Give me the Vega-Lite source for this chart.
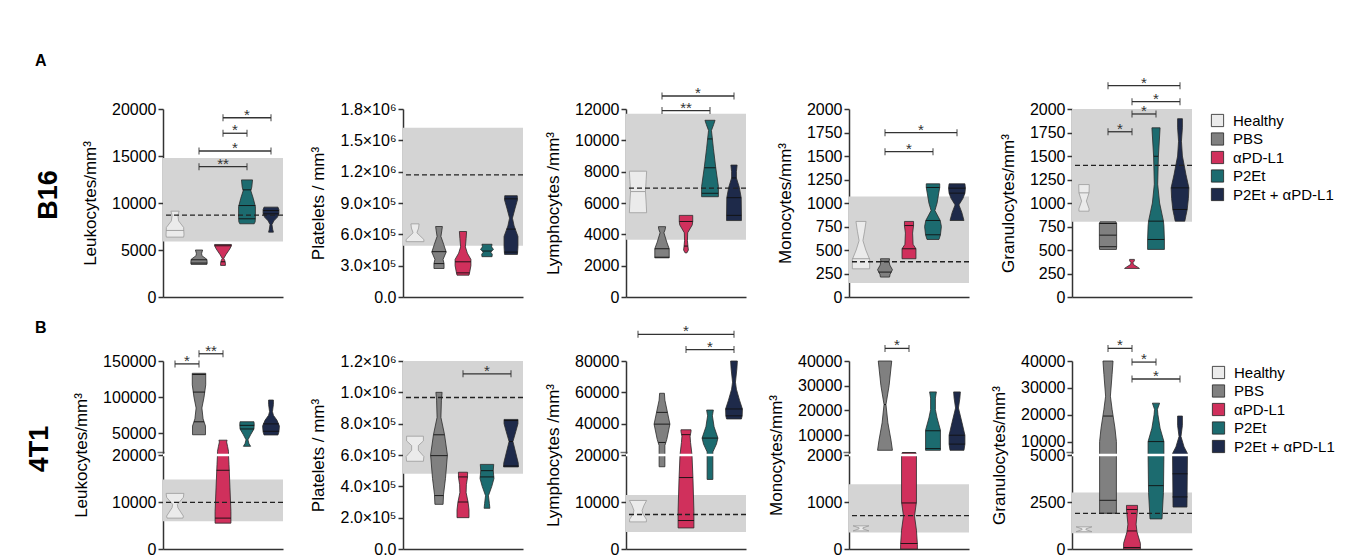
{
"$schema": "https://vega.github.io/schema/vega-lite/v6.json",
"padding": {"left": 25, "top": 52, "right": 5, "bottom": 5},
"spacing": 15,
"resolve": {"scale": {"fill": "independent"}, "legend": {"fill": "independent"}},
"datasets": {
"groups": [{"g":1,"name":"Healthy"},{"g":2,"name":"PBS"},{"g":3,"name":"αPD-L1"},{"g":4,"name":"P2Et"},{"g":5,"name":"P2Et + αPD-L1"}],
"bands": [
{"p":"A1","lo":5900,"hi":14800,"m":8700},
{"p":"A2","lo":490000,"hi":1620000,"m":1170000},
{"p":"A3","lo":3650,"hi":11700,"m":6950},
{"p":"A4","lo":150,"hi":1070,"m":375},
{"p":"A5","lo":800,"hi":2000,"m":1400},
{"p":"B1","lo":5900,"hi":14800,"m":9900},
{"p":"B2","lo":480000,"hi":1200000,"m":967000},
{"p":"B3","lo":3600,"hi":11500,"m":7340},
{"p":"B4","lo":350,"hi":1380,"m":710},
{"p":"B5","lo":840,"hi":3000,"m":1900}
],
"brk": [{"p":"B1","v":20000},{"p":"B3","v":20000},{"p":"B4","v":2000},{"p":"B5","v":5000}],
"br": [
{"p":"A1","g1":2,"g2":4,"v":13860,"s":"**"},{"p":"A1","g1":2,"g2":5,"v":15530,"s":"*"},{"p":"A1","g1":3,"g2":4,"v":17420,"s":"*"},{"p":"A1","g1":3,"g2":5,"v":19070,"s":"*"},
{"p":"A3","g1":2,"g2":4,"v":11900,"s":"**"},{"p":"A3","g1":2,"g2":5,"v":12830,"s":"*"},
{"p":"A4","g1":2,"g2":4,"v":1546,"s":"*"},{"p":"A4","g1":2,"g2":5,"v":1748,"s":"*"},
{"p":"A5","g1":2,"g2":3,"v":1758,"s":"*"},{"p":"A5","g1":3,"g2":4,"v":1947,"s":"*"},{"p":"A5","g1":3,"g2":5,"v":2078,"s":"*"},{"p":"A5","g1":2,"g2":5,"v":2248,"s":"*"},
{"p":"B1","g1":1,"g2":2,"v":146000,"s":"*"},{"p":"B1","g1":2,"g2":3,"v":160000,"s":"**"},
{"p":"B2","g1":3,"g2":5,"v":1118000,"s":"*"},
{"p":"B3","g1":3,"g2":5,"v":87300,"s":"*"},{"p":"B3","g1":1,"g2":5,"v":97000,"s":"*"},
{"p":"B4","g1":2,"g2":3,"v":45100,"s":"*"},
{"p":"B5","g1":2,"g2":3,"v":44700,"s":"*"},{"p":"B5","g1":3,"g2":4,"v":39600,"s":"*"},{"p":"B5","g1":3,"g2":5,"v":33300,"s":"*"}
],
"vio": [
{"p":"A1","g":1,"v":[6370,6600,7400,8100,8700,9130],"w":[0.36,0.375,0.36,0.15,0.12,0.17],"qv":[7080],"qw":[0.37]},
{"p":"A1","g":2,"v":[3470,3650,4000,4400,4650,5000],"w":[0.33,0.34,0.33,0.12,0.11,0.15],"qv":[3610,3960],"qw":[0.34,0.33]},
{"p":"A1","g":3,"v":[3360,3600,3900,4100,4500,5100,5450,5590],"w":[0.1,0.1,0.07,0.03,0.12,0.28,0.35,0.35],"qv":[3750,5450],"qw":[0.09,0.35]},
{"p":"A1","g":4,"v":[7790,8000,8500,9600,10500,11300,11700,12460],"w":[0.3,0.34,0.35,0.35,0.26,0.16,0.2,0.23],"qv":[8320,9730,11400],"qw":[0.35,0.35,0.17]},
{"p":"A1","g":5,"v":[6900,7200,7700,8100,8500,8900,9300,9560],"w":[0.1,0.07,0.04,0.12,0.27,0.33,0.33,0.29],"qv":[8850,9200],"qw":[0.33,0.33]},
{"p":"A2","g":1,"v":[530000,550000,615000,660000,700000],"w":[0.37,0.37,0.08,0.15,0.17],"qv":[],"qw":[]},
{"p":"A2","g":2,"v":[273000,320000,360000,430000,500000,580000,640000,675000],"w":[0.21,0.21,0.17,0.3,0.2,0.08,0.12,0.14],"qv":[320000,434000],"qw":[0.21,0.3]},
{"p":"A2","g":3,"v":[209000,240000,300000,360000,420000,480000,560000,627000],"w":[0.25,0.28,0.33,0.33,0.18,0.1,0.13,0.15],"qv":[231000,337000],"qw":[0.27,0.33]},
{"p":"A2","g":4,"v":[386000,410000,430000,455000,480000,505000],"w":[0.21,0.22,0.15,0.27,0.19,0.21],"qv":[440000],"qw":[0.2]},
{"p":"A2","g":5,"v":[408000,480000,580000,680000,755000,850000,930000,970000],"w":[0.27,0.29,0.29,0.13,0.06,0.17,0.27,0.26],"qv":[430000,650000,940000],"qw":[0.28,0.19,0.27]},
{"p":"A3","g":1,"v":[5380,6000,6730,7500,8030],"w":[0.36,0.34,0.31,0.34,0.36],"qv":[6730],"qw":[0.31]},
{"p":"A3","g":2,"v":[2500,3080,3500,4100,4300,4490],"w":[0.3,0.3,0.2,0.08,0.13,0.15],"qv":[2540,3080],"qw":[0.3,0.3]},
{"p":"A3","g":3,"v":[2820,3000,3250,3600,4100,4600,4820,5210],"w":[0.04,0.1,0.08,0.06,0.07,0.26,0.28,0.28],"qv":[3250,4820],"qw":[0.08,0.28]},
{"p":"A3","g":4,"v":[6400,6620,7050,8250,9500,10090,10630,11000,11280],"w":[0.35,0.35,0.35,0.24,0.14,0.1,0.06,0.15,0.21],"qv":[6620,8250,10090],"qw":[0.35,0.24,0.1]},
{"p":"A3","g":5,"v":[4880,5210,6340,7000,7600,8000,8420],"w":[0.31,0.31,0.3,0.22,0.1,0.1,0.13],"qv":[5210,6340,7600],"qw":[0.31,0.3,0.1]},
{"p":"A4","g":1,"v":[300,400,500,600,700,804],"w":[0.36,0.36,0.2,0.08,0.15,0.21],"qv":[407],"qw":[0.36]},
{"p":"A4","g":2,"v":[212,240,290,340,379,407],"w":[0.19,0.21,0.31,0.2,0.17,0.19],"qv":[265,379],"qw":[0.27,0.17]},
{"p":"A4","g":3,"v":[407,513,560,680,760,804],"w":[0.29,0.29,0.17,0.15,0.19,0.19],"qv":[513,760],"qw":[0.29,0.19]},
{"p":"A4","g":4,"v":[612,662,750,814,920,1000,1165,1204],"w":[0.25,0.31,0.35,0.3,0.08,0.17,0.28,0.28],"qv":[662,814,1165],"qw":[0.31,0.3,0.28]},
{"p":"A4","g":5,"v":[814,900,980,1050,1105,1158,1204],"w":[0.29,0.2,0.08,0.25,0.33,0.35,0.33],"qv":[1105,1158],"qw":[0.33,0.35]},
{"p":"A5","g":1,"v":[913,940,1020,1108,1196],"w":[0.21,0.21,0.1,0.21,0.22],"qv":[1108],"qw":[0.21]},
{"p":"A5","g":2,"v":[506,535,658,782,800],"w":[0.35,0.36,0.36,0.36,0.33],"qv":[535,658,782],"qw":[0.36,0.36,0.36]},
{"p":"A5","g":3,"v":[304,320,345,365,385,400],"w":[0.31,0.22,0.06,0.04,0.1,0.1],"qv":[],"qw":[]},
{"p":"A5","g":4,"v":[506,612,754,807,1000,1200,1497,1800],"w":[0.35,0.35,0.33,0.31,0.15,0.07,0.1,0.17],"qv":[612,807,1497],"qw":[0.35,0.31,0.1]},
{"p":"A5","g":5,"v":[807,870,931,1050,1161,1300,1500,1657,1800,1897],"w":[0.2,0.25,0.3,0.35,0.37,0.25,0.1,0.06,0.1,0.1],"qv":[931,1161],"qw":[0.3,0.37]},
{"p":"B1","g":1,"v":[6570,7000,8800,9500,11000,11830],"w":[0.33,0.35,0.12,0.1,0.35,0.37],"qv":[],"qw":[]},
{"p":"B1","g":2,"v":[48000,60000,70000,85000,100000,117000,133000],"w":[0.27,0.27,0.17,0.12,0.21,0.28,0.28],"qv":[65900,107000,131300],"qw":[0.21,0.25,0.28]},
{"p":"B1","g":3,"v":[5500,8000,13000,18000,20000,25000,32000,38000,40500],"w":[0.33,0.33,0.29,0.25,0.23,0.23,0.19,0.15,0.17],"qv":[6570,16750],"qw":[0.33,0.27]},
{"p":"B1","g":4,"v":[32000,36000,41000,48000,56000,63000,66000],"w":[0.15,0.08,0.04,0.15,0.29,0.3,0.29],"qv":[56000,61000],"qw":[0.29,0.3]},
{"p":"B1","g":5,"v":[47700,52000,60000,68000,75000,80000,90000,96000],"w":[0.29,0.33,0.35,0.25,0.1,0.06,0.1,0.1],"qv":[52800,63000],"qw":[0.33,0.33]},
{"p":"B2","g":1,"v":[560000,590000,630000,660000,690000,720000],"w":[0.35,0.37,0.14,0.14,0.35,0.35],"qv":[],"qw":[]},
{"p":"B2","g":2,"v":[285000,350000,450000,600000,730000,840000,950000,1000000],"w":[0.17,0.19,0.27,0.35,0.23,0.08,0.1,0.13],"qv":[341000,596000,729000],"qw":[0.18,0.35,0.23]},
{"p":"B2","g":3,"v":[200000,250000,300000,360000,410000,460000,490000],"w":[0.25,0.25,0.21,0.13,0.14,0.19,0.19],"qv":[300000,460000],"qw":[0.21,0.19]},
{"p":"B2","g":4,"v":[260000,290000,340000,400000,450000,500000,540000],"w":[0.12,0.1,0.06,0.2,0.29,0.26,0.28],"qv":[460000,500000],"qw":[0.29,0.26]},
{"p":"B2","g":5,"v":[524000,550000,686000,750000,800000,827000],"w":[0.31,0.3,0.08,0.2,0.29,0.29],"qv":[530000,686000,820000],"qw":[0.31,0.08,0.29]},
{"p":"B3","g":1,"v":[5770,6300,7500,8200,9300,10330],"w":[0.35,0.35,0.2,0.17,0.25,0.36],"qv":[],"qw":[]},
{"p":"B3","g":2,"v":[17500,20000,26000,30000,39700,47000,55000,59400],"w":[0.12,0.12,0.12,0.2,0.33,0.23,0.12,0.1],"qv":[28000,39700,47200],"qw":[0.15,0.33,0.23]},
{"p":"B3","g":3,"v":[4480,8000,15000,20000,28000,32000,35000,36100],"w":[0.33,0.33,0.29,0.25,0.19,0.17,0.21,0.21],"qv":[6060,15200,33000],"qw":[0.33,0.29,0.18]},
{"p":"B3","g":4,"v":[14800,20000,22000,27000,30800,38000,45000,48700],"w":[0.12,0.12,0.12,0.27,0.33,0.17,0.1,0.14],"qv":[30800],"qw":[0.33]},
{"p":"B3","g":5,"v":[43000,45000,49400,55000,62000,66500,75000,80000],"w":[0.31,0.34,0.35,0.23,0.1,0.06,0.12,0.14],"qv":[45000,49400],"qw":[0.34,0.35]},
{"p":"B4","g":1,"v":[385,430,450,493],"w":[0.33,0.08,0.08,0.33],"qv":[],"qw":[]},
{"p":"B4","g":2,"v":[3900,8000,15000,22400,30000,40000],"w":[0.31,0.25,0.12,0.04,0.17,0.28],"qv":[22400],"qw":[0.04]},
{"p":"B4","g":3,"v":[0,100,400,700,1000,2000,3000],"w":[0.35,0.35,0.31,0.23,0.31,0.31,0.28],"qv":[117,980,2800],"qw":[0.35,0.31,0.28]},
{"p":"B4","g":4,"v":[3900,12000,17000,20300,25000,27500],"w":[0.31,0.31,0.17,0.1,0.1,0.14],"qv":[4600,11800],"qw":[0.31,0.31]},
{"p":"B4","g":5,"v":[3900,6400,10000,15000,21000,25000,27500],"w":[0.29,0.33,0.33,0.21,0.06,0.12,0.14],"qv":[6400,10000],"qw":[0.33,0.33]},
{"p":"B5","g":1,"v":[920,1030,1070,1180],"w":[0.33,0.08,0.08,0.33],"qv":[],"qw":[]},
{"p":"B5","g":2,"v":[1900,5000,10000,15000,22000,26900,35000,40000],"w":[0.35,0.35,0.35,0.29,0.17,0.1,0.17,0.21],"qv":[2590,19500],"qw":[0.35,0.2]},
{"p":"B5","g":3,"v":[0,300,900,1320,2100,2320],"w":[0.35,0.35,0.21,0.17,0.23,0.23],"qv":[80,960,2100],"qw":[0.35,0.2,0.23]},
{"p":"B5","g":4,"v":[1600,3000,5000,10000,15000,20000,22000,24300],"w":[0.25,0.31,0.33,0.33,0.17,0.08,0.06,0.15],"qv":[3370,10000],"qw":[0.31,0.33]},
{"p":"B5","g":5,"v":[2230,5000,5600,8000,11900,16000,19500],"w":[0.29,0.31,0.31,0.17,0.04,0.1,0.1],"qv":[2770,4000],"qw":[0.31,0.31]}
]
},
"vconcat": [
{
"title": {"text": "A", "anchor": "start", "frame": "group", "fontSize": 16, "fontWeight": "bold", "dx": -128, "offset": 7},
"bounds": "flush", "spacing": 120,
"hconcat": [
{"width":120,"height":188,
"title": {"text":"B16","orient":"left","fontSize":27,"fontWeight":"bold","offset":19,"dx":8},
"layer":[
{"data":{"name":"bands"},"transform":[{"filter":"datum.p=='A1'"}],"mark":{"type":"rect","fill":"#d4d4d4"},"encoding":{"y":{"field":"lo","type":"quantitative","scale":{"domain":[0,20000],"nice":false},"axis":{"title":"Leukocytes/mm³","values":[0,5000,10000,15000,20000],"tickCount":40,"format":"d"}},"y2":{"field":"hi"}}},
{"data":{"name":"vio"},"transform":[{"filter":"datum.p=='A1'"},{"flatten":["v","w"]},{"calculate":"datum.g-datum.w","as":"xl"},{"calculate":"datum.g+datum.w","as":"xr"},{"lookup":"g","from":{"data":{"name":"groups"},"key":"g","fields":["name"]}}],"mark":{"type":"area","orient":"horizontal","strokeWidth":0.8,"opacity":1},"encoding":{"y":{"field":"v","type":"quantitative"},"x":{"field":"xl","type":"quantitative","stack":null,"scale":{"domain":[0.5,5.5]},"axis":{"title":null,"labels":false,"ticks":false}},"x2":{"field":"xr"},"fill":{"field":"name","type":"nominal","scale":{"domain":["Healthy","PBS","αPD-L1","P2Et","P2Et + αPD-L1"],"range":["#ebebeb","#808080","#d0305c","#1c6b6f","#1e2a4a"]},"legend":{"title":null}},"stroke":{"condition":{"test":"datum.g==1","value":"#9a9a9a"},"value":"#2a2a2a"}}},
{"data":{"name":"vio"},"transform":[{"filter":"datum.p=='A1'"},{"flatten":["qv","qw"]},{"calculate":"datum.g-datum.qw","as":"ql"},{"calculate":"datum.g+datum.qw","as":"qr"}],"mark":{"type":"rule","strokeWidth":0.9},"encoding":{"y":{"field":"qv","type":"quantitative"},"x":{"field":"ql","type":"quantitative"},"x2":{"field":"qr"},"stroke":{"condition":{"test":"datum.g==1","value":"#9a9a9a"},"value":"#111"}}},
{"data":{"name":"bands"},"transform":[{"filter":"datum.p=='A1'"}],"mark":{"type":"rule","strokeDash":[5,3],"strokeWidth":1.3,"color":"#222"},"encoding":{"y":{"field":"m","type":"quantitative"}}},
{"data":{"name":"br"},"transform":[{"filter":"datum.p=='A1'"}],"mark":{"type":"rule","color":"#333","strokeWidth":1.3},"encoding":{"x":{"field":"g1","type":"quantitative"},"x2":{"field":"g2"},"y":{"field":"v","type":"quantitative"}}},
{"data":{"name":"br"},"transform":[{"filter":"datum.p=='A1'"},{"fold":["g1","g2"],"as":["k","gx"]}],"mark":{"type":"tick","orient":"vertical","size":7,"thickness":1.3,"color":"#333","fill":"#333"},"encoding":{"x":{"field":"gx","type":"quantitative"},"y":{"field":"v","type":"quantitative"}}},
{"data":{"name":"br"},"transform":[{"filter":"datum.p=='A1'"},{"calculate":"(datum.g1+datum.g2)/2","as":"xm"}],"mark":{"type":"text","fontSize":15,"dy":2,"baseline":"alphabetic","fill":"#333"},"encoding":{"x":{"field":"xm","type":"quantitative"},"y":{"field":"v","type":"quantitative"},"text":{"field":"s"}}}
]},
{"bounds":"flush","spacing":103,"hconcat":[
{"width":120,"height":188,
"layer":[
{"data":{"name":"bands"},"transform":[{"filter":"datum.p=='A2'"}],"mark":{"type":"rect","fill":"#d4d4d4"},"encoding":{"y":{"field":"lo","type":"quantitative","scale":{"domain":[0,1800000],"nice":false},"axis":{"title":"Platelets / mm³","values":[0,300000,600000,900000,1200000,1500000,1800000],"tickCount":40,"labelExpr":"datum.value==0?'0.0':(datum.value<1000000?format(datum.value/100000,'.1f')+'×10⁵':format(datum.value/1000000,'.1f')+'×10⁶')"}},"y2":{"field":"hi"}}},
{"data":{"name":"vio"},"transform":[{"filter":"datum.p=='A2'"},{"flatten":["v","w"]},{"calculate":"datum.g-datum.w","as":"xl"},{"calculate":"datum.g+datum.w","as":"xr"},{"lookup":"g","from":{"data":{"name":"groups"},"key":"g","fields":["name"]}}],"mark":{"type":"area","orient":"horizontal","strokeWidth":0.8,"opacity":1},"encoding":{"y":{"field":"v","type":"quantitative"},"x":{"field":"xl","type":"quantitative","stack":null,"scale":{"domain":[0.5,5.5]},"axis":{"title":null,"labels":false,"ticks":false}},"x2":{"field":"xr"},"fill":{"field":"name","type":"nominal","scale":{"domain":["Healthy","PBS","αPD-L1","P2Et","P2Et + αPD-L1"],"range":["#ebebeb","#808080","#d0305c","#1c6b6f","#1e2a4a"]},"legend":{"title":null}},"stroke":{"condition":{"test":"datum.g==1","value":"#9a9a9a"},"value":"#2a2a2a"}}},
{"data":{"name":"vio"},"transform":[{"filter":"datum.p=='A2'"},{"flatten":["qv","qw"]},{"calculate":"datum.g-datum.qw","as":"ql"},{"calculate":"datum.g+datum.qw","as":"qr"}],"mark":{"type":"rule","strokeWidth":0.9},"encoding":{"y":{"field":"qv","type":"quantitative"},"x":{"field":"ql","type":"quantitative"},"x2":{"field":"qr"},"stroke":{"condition":{"test":"datum.g==1","value":"#9a9a9a"},"value":"#111"}}},
{"data":{"name":"bands"},"transform":[{"filter":"datum.p=='A2'"}],"mark":{"type":"rule","strokeDash":[5,3],"strokeWidth":1.3,"color":"#222"},"encoding":{"y":{"field":"m","type":"quantitative"}}}
]},
{"width":120,"height":188,
"layer":[
{"data":{"name":"bands"},"transform":[{"filter":"datum.p=='A3'"}],"mark":{"type":"rect","fill":"#d4d4d4"},"encoding":{"y":{"field":"lo","type":"quantitative","scale":{"domain":[0,12000],"nice":false},"axis":{"title":"Lymphocytes /mm³","values":[0,2000,4000,6000,8000,10000,12000],"tickCount":40,"format":"d"}},"y2":{"field":"hi"}}},
{"data":{"name":"vio"},"transform":[{"filter":"datum.p=='A3'"},{"flatten":["v","w"]},{"calculate":"datum.g-datum.w","as":"xl"},{"calculate":"datum.g+datum.w","as":"xr"},{"lookup":"g","from":{"data":{"name":"groups"},"key":"g","fields":["name"]}}],"mark":{"type":"area","orient":"horizontal","strokeWidth":0.8,"opacity":1},"encoding":{"y":{"field":"v","type":"quantitative"},"x":{"field":"xl","type":"quantitative","stack":null,"scale":{"domain":[0.5,5.5]},"axis":{"title":null,"labels":false,"ticks":false}},"x2":{"field":"xr"},"fill":{"field":"name","type":"nominal","scale":{"domain":["Healthy","PBS","αPD-L1","P2Et","P2Et + αPD-L1"],"range":["#ebebeb","#808080","#d0305c","#1c6b6f","#1e2a4a"]},"legend":{"title":null}},"stroke":{"condition":{"test":"datum.g==1","value":"#9a9a9a"},"value":"#2a2a2a"}}},
{"data":{"name":"vio"},"transform":[{"filter":"datum.p=='A3'"},{"flatten":["qv","qw"]},{"calculate":"datum.g-datum.qw","as":"ql"},{"calculate":"datum.g+datum.qw","as":"qr"}],"mark":{"type":"rule","strokeWidth":0.9},"encoding":{"y":{"field":"qv","type":"quantitative"},"x":{"field":"ql","type":"quantitative"},"x2":{"field":"qr"},"stroke":{"condition":{"test":"datum.g==1","value":"#9a9a9a"},"value":"#111"}}},
{"data":{"name":"bands"},"transform":[{"filter":"datum.p=='A3'"}],"mark":{"type":"rule","strokeDash":[5,3],"strokeWidth":1.3,"color":"#222"},"encoding":{"y":{"field":"m","type":"quantitative"}}},
{"data":{"name":"br"},"transform":[{"filter":"datum.p=='A3'"}],"mark":{"type":"rule","color":"#333","strokeWidth":1.3},"encoding":{"x":{"field":"g1","type":"quantitative"},"x2":{"field":"g2"},"y":{"field":"v","type":"quantitative"}}},
{"data":{"name":"br"},"transform":[{"filter":"datum.p=='A3'"},{"fold":["g1","g2"],"as":["k","gx"]}],"mark":{"type":"tick","orient":"vertical","size":7,"thickness":1.3,"color":"#333","fill":"#333"},"encoding":{"x":{"field":"gx","type":"quantitative"},"y":{"field":"v","type":"quantitative"}}},
{"data":{"name":"br"},"transform":[{"filter":"datum.p=='A3'"},{"calculate":"(datum.g1+datum.g2)/2","as":"xm"}],"mark":{"type":"text","fontSize":15,"dy":2,"baseline":"alphabetic","fill":"#333"},"encoding":{"x":{"field":"xm","type":"quantitative"},"y":{"field":"v","type":"quantitative"},"text":{"field":"s"}}}
]},
{"width":120,"height":188,
"layer":[
{"data":{"name":"bands"},"transform":[{"filter":"datum.p=='A4'"}],"mark":{"type":"rect","fill":"#d4d4d4"},"encoding":{"y":{"field":"lo","type":"quantitative","scale":{"domain":[0,2000],"nice":false},"axis":{"title":"Monocytes/mm³","values":[0,250,500,750,1000,1250,1500,1750,2000],"tickCount":40,"format":"d"}},"y2":{"field":"hi"}}},
{"data":{"name":"vio"},"transform":[{"filter":"datum.p=='A4'"},{"flatten":["v","w"]},{"calculate":"datum.g-datum.w","as":"xl"},{"calculate":"datum.g+datum.w","as":"xr"},{"lookup":"g","from":{"data":{"name":"groups"},"key":"g","fields":["name"]}}],"mark":{"type":"area","orient":"horizontal","strokeWidth":0.8,"opacity":1},"encoding":{"y":{"field":"v","type":"quantitative"},"x":{"field":"xl","type":"quantitative","stack":null,"scale":{"domain":[0.5,5.5]},"axis":{"title":null,"labels":false,"ticks":false}},"x2":{"field":"xr"},"fill":{"field":"name","type":"nominal","scale":{"domain":["Healthy","PBS","αPD-L1","P2Et","P2Et + αPD-L1"],"range":["#ebebeb","#808080","#d0305c","#1c6b6f","#1e2a4a"]},"legend":{"title":null}},"stroke":{"condition":{"test":"datum.g==1","value":"#9a9a9a"},"value":"#2a2a2a"}}},
{"data":{"name":"vio"},"transform":[{"filter":"datum.p=='A4'"},{"flatten":["qv","qw"]},{"calculate":"datum.g-datum.qw","as":"ql"},{"calculate":"datum.g+datum.qw","as":"qr"}],"mark":{"type":"rule","strokeWidth":0.9},"encoding":{"y":{"field":"qv","type":"quantitative"},"x":{"field":"ql","type":"quantitative"},"x2":{"field":"qr"},"stroke":{"condition":{"test":"datum.g==1","value":"#9a9a9a"},"value":"#111"}}},
{"data":{"name":"bands"},"transform":[{"filter":"datum.p=='A4'"}],"mark":{"type":"rule","strokeDash":[5,3],"strokeWidth":1.3,"color":"#222"},"encoding":{"y":{"field":"m","type":"quantitative"}}},
{"data":{"name":"br"},"transform":[{"filter":"datum.p=='A4'"}],"mark":{"type":"rule","color":"#333","strokeWidth":1.3},"encoding":{"x":{"field":"g1","type":"quantitative"},"x2":{"field":"g2"},"y":{"field":"v","type":"quantitative"}}},
{"data":{"name":"br"},"transform":[{"filter":"datum.p=='A4'"},{"fold":["g1","g2"],"as":["k","gx"]}],"mark":{"type":"tick","orient":"vertical","size":7,"thickness":1.3,"color":"#333","fill":"#333"},"encoding":{"x":{"field":"gx","type":"quantitative"},"y":{"field":"v","type":"quantitative"}}},
{"data":{"name":"br"},"transform":[{"filter":"datum.p=='A4'"},{"calculate":"(datum.g1+datum.g2)/2","as":"xm"}],"mark":{"type":"text","fontSize":15,"dy":2,"baseline":"alphabetic","fill":"#333"},"encoding":{"x":{"field":"xm","type":"quantitative"},"y":{"field":"v","type":"quantitative"},"text":{"field":"s"}}}
]},
{"width":120,"height":188,
"layer":[
{"data":{"name":"bands"},"transform":[{"filter":"datum.p=='A5'"}],"mark":{"type":"rect","fill":"#d4d4d4"},"encoding":{"y":{"field":"lo","type":"quantitative","scale":{"domain":[0,2000],"nice":false},"axis":{"title":"Granulocytes/mm³","values":[0,250,500,750,1000,1250,1500,1750,2000],"tickCount":40,"format":"d"}},"y2":{"field":"hi"}}},
{"data":{"name":"vio"},"transform":[{"filter":"datum.p=='A5'"},{"flatten":["v","w"]},{"calculate":"datum.g-datum.w","as":"xl"},{"calculate":"datum.g+datum.w","as":"xr"},{"lookup":"g","from":{"data":{"name":"groups"},"key":"g","fields":["name"]}}],"mark":{"type":"area","orient":"horizontal","strokeWidth":0.8,"opacity":1},"encoding":{"y":{"field":"v","type":"quantitative"},"x":{"field":"xl","type":"quantitative","stack":null,"scale":{"domain":[0.5,5.5]},"axis":{"title":null,"labels":false,"ticks":false}},"x2":{"field":"xr"},"fill":{"field":"name","type":"nominal","scale":{"domain":["Healthy","PBS","αPD-L1","P2Et","P2Et + αPD-L1"],"range":["#ebebeb","#808080","#d0305c","#1c6b6f","#1e2a4a"]},"legend":{"title":null}},"stroke":{"condition":{"test":"datum.g==1","value":"#9a9a9a"},"value":"#2a2a2a"}}},
{"data":{"name":"vio"},"transform":[{"filter":"datum.p=='A5'"},{"flatten":["qv","qw"]},{"calculate":"datum.g-datum.qw","as":"ql"},{"calculate":"datum.g+datum.qw","as":"qr"}],"mark":{"type":"rule","strokeWidth":0.9},"encoding":{"y":{"field":"qv","type":"quantitative"},"x":{"field":"ql","type":"quantitative"},"x2":{"field":"qr"},"stroke":{"condition":{"test":"datum.g==1","value":"#9a9a9a"},"value":"#111"}}},
{"data":{"name":"bands"},"transform":[{"filter":"datum.p=='A5'"}],"mark":{"type":"rule","strokeDash":[5,3],"strokeWidth":1.3,"color":"#222"},"encoding":{"y":{"field":"m","type":"quantitative"}}},
{"data":{"name":"br"},"transform":[{"filter":"datum.p=='A5'"}],"mark":{"type":"rule","color":"#333","strokeWidth":1.3},"encoding":{"x":{"field":"g1","type":"quantitative"},"x2":{"field":"g2"},"y":{"field":"v","type":"quantitative"}}},
{"data":{"name":"br"},"transform":[{"filter":"datum.p=='A5'"},{"fold":["g1","g2"],"as":["k","gx"]}],"mark":{"type":"tick","orient":"vertical","size":7,"thickness":1.3,"color":"#333","fill":"#333"},"encoding":{"x":{"field":"gx","type":"quantitative"},"y":{"field":"v","type":"quantitative"}}},
{"data":{"name":"br"},"transform":[{"filter":"datum.p=='A5'"},{"calculate":"(datum.g1+datum.g2)/2","as":"xm"}],"mark":{"type":"text","fontSize":15,"dy":2,"baseline":"alphabetic","fill":"#333"},"encoding":{"x":{"field":"xm","type":"quantitative"},"y":{"field":"v","type":"quantitative"},"text":{"field":"s"}}}
]}
]}
]
},
{
"title": {"text": "B", "anchor": "start", "frame": "group", "fontSize": 16, "fontWeight": "bold", "dx": -128, "offset": -12},
"bounds": "flush", "spacing": 120,
"hconcat": [
{"width":120,"height":188,
"title": {"text":"4T1","orient":"left","fontSize":27,"fontWeight":"bold","offset":19,"dx":6},
"layer":[
{"data":{"name":"bands"},"transform":[{"filter":"datum.p=='B1'"}],"mark":{"type":"rect","fill":"#d4d4d4"},"encoding":{"y":{"field":"lo","type":"quantitative","scale":{"domain":[0,20000,150000],"range":[188,94,0],"nice":false},"axis":{"title":"Leukocytes/mm³","values":[0,10000,20000,50000,100000,150000],"tickCount":40,"format":"d"}},"y2":{"field":"hi"}}},
{"data":{"name":"vio"},"transform":[{"filter":"datum.p=='B1'"},{"flatten":["v","w"]},{"calculate":"datum.g-datum.w","as":"xl"},{"calculate":"datum.g+datum.w","as":"xr"},{"lookup":"g","from":{"data":{"name":"groups"},"key":"g","fields":["name"]}}],"mark":{"type":"area","orient":"horizontal","strokeWidth":0.8,"opacity":1},"encoding":{"y":{"field":"v","type":"quantitative"},"x":{"field":"xl","type":"quantitative","stack":null,"scale":{"domain":[0.5,5.5]},"axis":{"title":null,"labels":false,"ticks":false}},"x2":{"field":"xr"},"fill":{"field":"name","type":"nominal","scale":{"domain":["Healthy","PBS","αPD-L1","P2Et","P2Et + αPD-L1"],"range":["#ebebeb","#808080","#d0305c","#1c6b6f","#1e2a4a"]},"legend":{"title":null}},"stroke":{"condition":{"test":"datum.g==1","value":"#9a9a9a"},"value":"#2a2a2a"}}},
{"data":{"name":"vio"},"transform":[{"filter":"datum.p=='B1'"},{"flatten":["qv","qw"]},{"calculate":"datum.g-datum.qw","as":"ql"},{"calculate":"datum.g+datum.qw","as":"qr"}],"mark":{"type":"rule","strokeWidth":0.9},"encoding":{"y":{"field":"qv","type":"quantitative"},"x":{"field":"ql","type":"quantitative"},"x2":{"field":"qr"},"stroke":{"condition":{"test":"datum.g==1","value":"#9a9a9a"},"value":"#111"}}},
{"data":{"name":"brk"},"transform":[{"filter":"datum.p=='B1'"}],"mark":{"type":"rule","color":"#ffffff","strokeWidth":2.5},"encoding":{"y":{"field":"v","type":"quantitative"}}},
{"data":{"name":"brk"},"transform":[{"filter":"datum.p=='B1'"}],"mark":{"type":"tick","orient":"horizontal","size":7,"thickness":1.5,"color":"#333","yOffset":-2.5,"xOffset":-2},"encoding":{"x":{"datum":0.5},"y":{"field":"v","type":"quantitative"}}},
{"data":{"name":"bands"},"transform":[{"filter":"datum.p=='B1'"}],"mark":{"type":"rule","strokeDash":[5,3],"strokeWidth":1.3,"color":"#222"},"encoding":{"y":{"field":"m","type":"quantitative"}}},
{"data":{"name":"br"},"transform":[{"filter":"datum.p=='B1'"}],"mark":{"type":"rule","color":"#333","strokeWidth":1.3},"encoding":{"x":{"field":"g1","type":"quantitative"},"x2":{"field":"g2"},"y":{"field":"v","type":"quantitative"}}},
{"data":{"name":"br"},"transform":[{"filter":"datum.p=='B1'"},{"fold":["g1","g2"],"as":["k","gx"]}],"mark":{"type":"tick","orient":"vertical","size":7,"thickness":1.3,"color":"#333","fill":"#333"},"encoding":{"x":{"field":"gx","type":"quantitative"},"y":{"field":"v","type":"quantitative"}}},
{"data":{"name":"br"},"transform":[{"filter":"datum.p=='B1'"},{"calculate":"(datum.g1+datum.g2)/2","as":"xm"}],"mark":{"type":"text","fontSize":15,"dy":2,"baseline":"alphabetic","fill":"#333"},"encoding":{"x":{"field":"xm","type":"quantitative"},"y":{"field":"v","type":"quantitative"},"text":{"field":"s"}}}
]},
{"bounds":"flush","spacing":103,"hconcat":[
{"width":120,"height":188,
"layer":[
{"data":{"name":"bands"},"transform":[{"filter":"datum.p=='B2'"}],"mark":{"type":"rect","fill":"#d4d4d4"},"encoding":{"y":{"field":"lo","type":"quantitative","scale":{"domain":[0,1200000],"nice":false},"axis":{"title":"Platelets / mm³","values":[0,200000,400000,600000,800000,1000000,1200000],"tickCount":40,"labelExpr":"datum.value==0?'0.0':(datum.value<1000000?format(datum.value/100000,'.1f')+'×10⁵':format(datum.value/1000000,'.1f')+'×10⁶')"}},"y2":{"field":"hi"}}},
{"data":{"name":"vio"},"transform":[{"filter":"datum.p=='B2'"},{"flatten":["v","w"]},{"calculate":"datum.g-datum.w","as":"xl"},{"calculate":"datum.g+datum.w","as":"xr"},{"lookup":"g","from":{"data":{"name":"groups"},"key":"g","fields":["name"]}}],"mark":{"type":"area","orient":"horizontal","strokeWidth":0.8,"opacity":1},"encoding":{"y":{"field":"v","type":"quantitative"},"x":{"field":"xl","type":"quantitative","stack":null,"scale":{"domain":[0.5,5.5]},"axis":{"title":null,"labels":false,"ticks":false}},"x2":{"field":"xr"},"fill":{"field":"name","type":"nominal","scale":{"domain":["Healthy","PBS","αPD-L1","P2Et","P2Et + αPD-L1"],"range":["#ebebeb","#808080","#d0305c","#1c6b6f","#1e2a4a"]},"legend":{"title":null}},"stroke":{"condition":{"test":"datum.g==1","value":"#9a9a9a"},"value":"#2a2a2a"}}},
{"data":{"name":"vio"},"transform":[{"filter":"datum.p=='B2'"},{"flatten":["qv","qw"]},{"calculate":"datum.g-datum.qw","as":"ql"},{"calculate":"datum.g+datum.qw","as":"qr"}],"mark":{"type":"rule","strokeWidth":0.9},"encoding":{"y":{"field":"qv","type":"quantitative"},"x":{"field":"ql","type":"quantitative"},"x2":{"field":"qr"},"stroke":{"condition":{"test":"datum.g==1","value":"#9a9a9a"},"value":"#111"}}},
{"data":{"name":"bands"},"transform":[{"filter":"datum.p=='B2'"}],"mark":{"type":"rule","strokeDash":[5,3],"strokeWidth":1.3,"color":"#222"},"encoding":{"y":{"field":"m","type":"quantitative"}}},
{"data":{"name":"br"},"transform":[{"filter":"datum.p=='B2'"}],"mark":{"type":"rule","color":"#333","strokeWidth":1.3},"encoding":{"x":{"field":"g1","type":"quantitative"},"x2":{"field":"g2"},"y":{"field":"v","type":"quantitative"}}},
{"data":{"name":"br"},"transform":[{"filter":"datum.p=='B2'"},{"fold":["g1","g2"],"as":["k","gx"]}],"mark":{"type":"tick","orient":"vertical","size":7,"thickness":1.3,"color":"#333","fill":"#333"},"encoding":{"x":{"field":"gx","type":"quantitative"},"y":{"field":"v","type":"quantitative"}}},
{"data":{"name":"br"},"transform":[{"filter":"datum.p=='B2'"},{"calculate":"(datum.g1+datum.g2)/2","as":"xm"}],"mark":{"type":"text","fontSize":15,"dy":2,"baseline":"alphabetic","fill":"#333"},"encoding":{"x":{"field":"xm","type":"quantitative"},"y":{"field":"v","type":"quantitative"},"text":{"field":"s"}}}
]},
{"width":120,"height":188,
"layer":[
{"data":{"name":"bands"},"transform":[{"filter":"datum.p=='B3'"}],"mark":{"type":"rect","fill":"#d4d4d4"},"encoding":{"y":{"field":"lo","type":"quantitative","scale":{"domain":[0,20000,80000],"range":[188,94,0],"nice":false},"axis":{"title":"Lymphocytes /mm³","values":[0,10000,20000,40000,60000,80000],"tickCount":40,"format":"d"}},"y2":{"field":"hi"}}},
{"data":{"name":"vio"},"transform":[{"filter":"datum.p=='B3'"},{"flatten":["v","w"]},{"calculate":"datum.g-datum.w","as":"xl"},{"calculate":"datum.g+datum.w","as":"xr"},{"lookup":"g","from":{"data":{"name":"groups"},"key":"g","fields":["name"]}}],"mark":{"type":"area","orient":"horizontal","strokeWidth":0.8,"opacity":1},"encoding":{"y":{"field":"v","type":"quantitative"},"x":{"field":"xl","type":"quantitative","stack":null,"scale":{"domain":[0.5,5.5]},"axis":{"title":null,"labels":false,"ticks":false}},"x2":{"field":"xr"},"fill":{"field":"name","type":"nominal","scale":{"domain":["Healthy","PBS","αPD-L1","P2Et","P2Et + αPD-L1"],"range":["#ebebeb","#808080","#d0305c","#1c6b6f","#1e2a4a"]},"legend":{"title":null}},"stroke":{"condition":{"test":"datum.g==1","value":"#9a9a9a"},"value":"#2a2a2a"}}},
{"data":{"name":"vio"},"transform":[{"filter":"datum.p=='B3'"},{"flatten":["qv","qw"]},{"calculate":"datum.g-datum.qw","as":"ql"},{"calculate":"datum.g+datum.qw","as":"qr"}],"mark":{"type":"rule","strokeWidth":0.9},"encoding":{"y":{"field":"qv","type":"quantitative"},"x":{"field":"ql","type":"quantitative"},"x2":{"field":"qr"},"stroke":{"condition":{"test":"datum.g==1","value":"#9a9a9a"},"value":"#111"}}},
{"data":{"name":"brk"},"transform":[{"filter":"datum.p=='B3'"}],"mark":{"type":"rule","color":"#ffffff","strokeWidth":2.5},"encoding":{"y":{"field":"v","type":"quantitative"}}},
{"data":{"name":"brk"},"transform":[{"filter":"datum.p=='B3'"}],"mark":{"type":"tick","orient":"horizontal","size":7,"thickness":1.5,"color":"#333","yOffset":-2.5,"xOffset":-2},"encoding":{"x":{"datum":0.5},"y":{"field":"v","type":"quantitative"}}},
{"data":{"name":"bands"},"transform":[{"filter":"datum.p=='B3'"}],"mark":{"type":"rule","strokeDash":[5,3],"strokeWidth":1.3,"color":"#222"},"encoding":{"y":{"field":"m","type":"quantitative"}}},
{"data":{"name":"br"},"transform":[{"filter":"datum.p=='B3'"}],"mark":{"type":"rule","color":"#333","strokeWidth":1.3},"encoding":{"x":{"field":"g1","type":"quantitative"},"x2":{"field":"g2"},"y":{"field":"v","type":"quantitative"}}},
{"data":{"name":"br"},"transform":[{"filter":"datum.p=='B3'"},{"fold":["g1","g2"],"as":["k","gx"]}],"mark":{"type":"tick","orient":"vertical","size":7,"thickness":1.3,"color":"#333","fill":"#333"},"encoding":{"x":{"field":"gx","type":"quantitative"},"y":{"field":"v","type":"quantitative"}}},
{"data":{"name":"br"},"transform":[{"filter":"datum.p=='B3'"},{"calculate":"(datum.g1+datum.g2)/2","as":"xm"}],"mark":{"type":"text","fontSize":15,"dy":2,"baseline":"alphabetic","fill":"#333"},"encoding":{"x":{"field":"xm","type":"quantitative"},"y":{"field":"v","type":"quantitative"},"text":{"field":"s"}}}
]},
{"width":120,"height":188,
"layer":[
{"data":{"name":"bands"},"transform":[{"filter":"datum.p=='B4'"}],"mark":{"type":"rect","fill":"#d4d4d4"},"encoding":{"y":{"field":"lo","type":"quantitative","scale":{"domain":[0,2000,40000],"range":[188,94,0],"nice":false},"axis":{"title":"Monocytes/mm³","values":[0,1000,2000,10000,20000,30000,40000],"tickCount":40,"format":"d"}},"y2":{"field":"hi"}}},
{"data":{"name":"vio"},"transform":[{"filter":"datum.p=='B4'"},{"flatten":["v","w"]},{"calculate":"datum.g-datum.w","as":"xl"},{"calculate":"datum.g+datum.w","as":"xr"},{"lookup":"g","from":{"data":{"name":"groups"},"key":"g","fields":["name"]}}],"mark":{"type":"area","orient":"horizontal","strokeWidth":0.8,"opacity":1},"encoding":{"y":{"field":"v","type":"quantitative"},"x":{"field":"xl","type":"quantitative","stack":null,"scale":{"domain":[0.5,5.5]},"axis":{"title":null,"labels":false,"ticks":false}},"x2":{"field":"xr"},"fill":{"field":"name","type":"nominal","scale":{"domain":["Healthy","PBS","αPD-L1","P2Et","P2Et + αPD-L1"],"range":["#ebebeb","#808080","#d0305c","#1c6b6f","#1e2a4a"]},"legend":{"title":null}},"stroke":{"condition":{"test":"datum.g==1","value":"#9a9a9a"},"value":"#2a2a2a"}}},
{"data":{"name":"vio"},"transform":[{"filter":"datum.p=='B4'"},{"flatten":["qv","qw"]},{"calculate":"datum.g-datum.qw","as":"ql"},{"calculate":"datum.g+datum.qw","as":"qr"}],"mark":{"type":"rule","strokeWidth":0.9},"encoding":{"y":{"field":"qv","type":"quantitative"},"x":{"field":"ql","type":"quantitative"},"x2":{"field":"qr"},"stroke":{"condition":{"test":"datum.g==1","value":"#9a9a9a"},"value":"#111"}}},
{"data":{"name":"brk"},"transform":[{"filter":"datum.p=='B4'"}],"mark":{"type":"rule","color":"#ffffff","strokeWidth":2.5},"encoding":{"y":{"field":"v","type":"quantitative"}}},
{"data":{"name":"brk"},"transform":[{"filter":"datum.p=='B4'"}],"mark":{"type":"tick","orient":"horizontal","size":7,"thickness":1.5,"color":"#333","yOffset":-2.5,"xOffset":-2},"encoding":{"x":{"datum":0.5},"y":{"field":"v","type":"quantitative"}}},
{"data":{"name":"bands"},"transform":[{"filter":"datum.p=='B4'"}],"mark":{"type":"rule","strokeDash":[5,3],"strokeWidth":1.3,"color":"#222"},"encoding":{"y":{"field":"m","type":"quantitative"}}},
{"data":{"name":"br"},"transform":[{"filter":"datum.p=='B4'"}],"mark":{"type":"rule","color":"#333","strokeWidth":1.3},"encoding":{"x":{"field":"g1","type":"quantitative"},"x2":{"field":"g2"},"y":{"field":"v","type":"quantitative"}}},
{"data":{"name":"br"},"transform":[{"filter":"datum.p=='B4'"},{"fold":["g1","g2"],"as":["k","gx"]}],"mark":{"type":"tick","orient":"vertical","size":7,"thickness":1.3,"color":"#333","fill":"#333"},"encoding":{"x":{"field":"gx","type":"quantitative"},"y":{"field":"v","type":"quantitative"}}},
{"data":{"name":"br"},"transform":[{"filter":"datum.p=='B4'"},{"calculate":"(datum.g1+datum.g2)/2","as":"xm"}],"mark":{"type":"text","fontSize":15,"dy":2,"baseline":"alphabetic","fill":"#333"},"encoding":{"x":{"field":"xm","type":"quantitative"},"y":{"field":"v","type":"quantitative"},"text":{"field":"s"}}}
]},
{"width":120,"height":188,
"layer":[
{"data":{"name":"bands"},"transform":[{"filter":"datum.p=='B5'"}],"mark":{"type":"rect","fill":"#d4d4d4"},"encoding":{"y":{"field":"lo","type":"quantitative","scale":{"domain":[0,5000,40000],"range":[188,94,0],"nice":false},"axis":{"title":"Granulocytes/mm³","values":[0,2500,5000,10000,20000,30000,40000],"tickCount":40,"format":"d"}},"y2":{"field":"hi"}}},
{"data":{"name":"vio"},"transform":[{"filter":"datum.p=='B5'"},{"flatten":["v","w"]},{"calculate":"datum.g-datum.w","as":"xl"},{"calculate":"datum.g+datum.w","as":"xr"},{"lookup":"g","from":{"data":{"name":"groups"},"key":"g","fields":["name"]}}],"mark":{"type":"area","orient":"horizontal","strokeWidth":0.8,"opacity":1},"encoding":{"y":{"field":"v","type":"quantitative"},"x":{"field":"xl","type":"quantitative","stack":null,"scale":{"domain":[0.5,5.5]},"axis":{"title":null,"labels":false,"ticks":false}},"x2":{"field":"xr"},"fill":{"field":"name","type":"nominal","scale":{"domain":["Healthy","PBS","αPD-L1","P2Et","P2Et + αPD-L1"],"range":["#ebebeb","#808080","#d0305c","#1c6b6f","#1e2a4a"]},"legend":{"title":null}},"stroke":{"condition":{"test":"datum.g==1","value":"#9a9a9a"},"value":"#2a2a2a"}}},
{"data":{"name":"vio"},"transform":[{"filter":"datum.p=='B5'"},{"flatten":["qv","qw"]},{"calculate":"datum.g-datum.qw","as":"ql"},{"calculate":"datum.g+datum.qw","as":"qr"}],"mark":{"type":"rule","strokeWidth":0.9},"encoding":{"y":{"field":"qv","type":"quantitative"},"x":{"field":"ql","type":"quantitative"},"x2":{"field":"qr"},"stroke":{"condition":{"test":"datum.g==1","value":"#9a9a9a"},"value":"#111"}}},
{"data":{"name":"brk"},"transform":[{"filter":"datum.p=='B5'"}],"mark":{"type":"rule","color":"#ffffff","strokeWidth":2.5},"encoding":{"y":{"field":"v","type":"quantitative"}}},
{"data":{"name":"brk"},"transform":[{"filter":"datum.p=='B5'"}],"mark":{"type":"tick","orient":"horizontal","size":7,"thickness":1.5,"color":"#333","yOffset":-2.5,"xOffset":-2},"encoding":{"x":{"datum":0.5},"y":{"field":"v","type":"quantitative"}}},
{"data":{"name":"bands"},"transform":[{"filter":"datum.p=='B5'"}],"mark":{"type":"rule","strokeDash":[5,3],"strokeWidth":1.3,"color":"#222"},"encoding":{"y":{"field":"m","type":"quantitative"}}},
{"data":{"name":"br"},"transform":[{"filter":"datum.p=='B5'"}],"mark":{"type":"rule","color":"#333","strokeWidth":1.3},"encoding":{"x":{"field":"g1","type":"quantitative"},"x2":{"field":"g2"},"y":{"field":"v","type":"quantitative"}}},
{"data":{"name":"br"},"transform":[{"filter":"datum.p=='B5'"},{"fold":["g1","g2"],"as":["k","gx"]}],"mark":{"type":"tick","orient":"vertical","size":7,"thickness":1.3,"color":"#333","fill":"#333"},"encoding":{"x":{"field":"gx","type":"quantitative"},"y":{"field":"v","type":"quantitative"}}},
{"data":{"name":"br"},"transform":[{"filter":"datum.p=='B5'"},{"calculate":"(datum.g1+datum.g2)/2","as":"xm"}],"mark":{"type":"text","fontSize":15,"dy":2,"baseline":"alphabetic","fill":"#333"},"encoding":{"x":{"field":"xm","type":"quantitative"},"y":{"field":"v","type":"quantitative"},"text":{"field":"s"}}}
]}
]}
]
}
],
"config": {
"view": {"stroke": null},
"font": "Liberation Sans",
"axis": {"labelFont": "Liberation Sans", "labelFontSize": 16, "labelColor": "#000", "labelOverlap": false, "labelFlush": false, "titleFont": "Liberation Sans", "titleFontSize": 17, "titleFontWeight": "normal", "titleColor": "#000", "domainColor": "#333", "domainWidth": 1.5, "tickColor": "#333", "tickWidth": 1.5, "tickSize": 5, "grid": false, "labelPadding": 2, "titlePadding": 12, "zindex": 1},
"legend": {"orient": "right", "offset": 13, "padding": 4, "symbolType": "square", "symbolSize": 150, "symbolStrokeColor": "#222", "symbolStrokeWidth": 0.8, "labelFontSize": 15, "labelFont": "Liberation Sans", "labelColor": "#000", "rowPadding": 1.5, "labelOffset": 8},
"title": {"font": "Liberation Sans", "color": "#000"}
}
}
